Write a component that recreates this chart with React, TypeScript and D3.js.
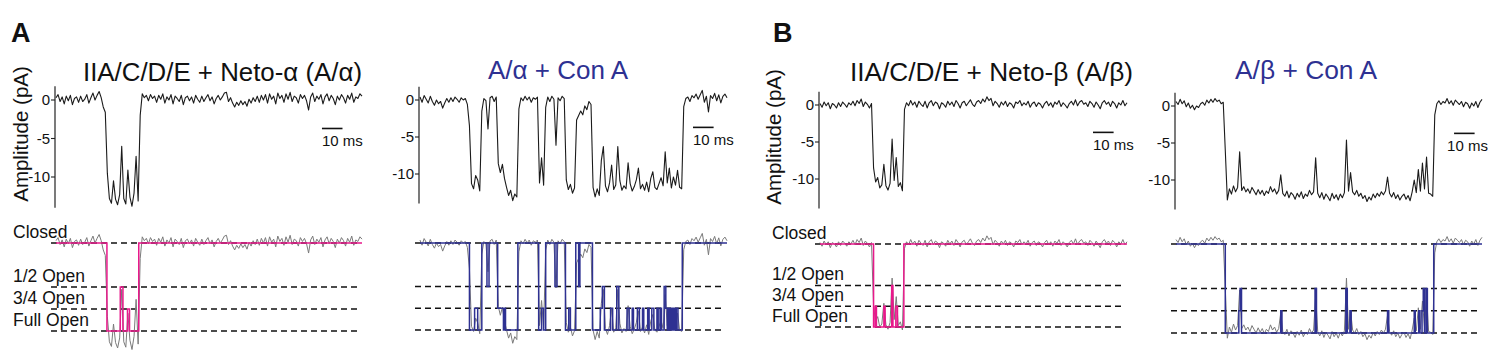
import * as d3 from 'd3';

// single-channel recordings, sampled every 1 ms (pA)
const rawAlpha = [
  0.3, 0.7, -0.2, 0.4, -0.5, 0.5, -0.1, 0.6, -0.6, 0.2,
  0.4, -0.3, 0.5, -0.2, 0.1, 0.7, -0.4, 0.3, 0.9, 0.0,
  0.6, 1.1, 0.3, -0.9, -1.6, -9.5, -12.8, -13.4, -10.5, -12.9,
  -13.6, -12.3, -6.0, -12.8, -13.5, -9.1, -12.6, -13.8, -12.1, -7.3,
  -13.1, -2.0, 0.8, 0.3, 0.6, -0.1, 0.7, 0.2, 0.5, -0.3,
  0.6, 0.1, 0.8, -0.4, 0.4, 0.0, 0.7, -0.5, 0.5, 0.2,
  -0.2, 0.6, -0.6, 0.3, 0.5, -0.1, 0.4, -0.4, 0.6, 0.1,
  -0.3, 0.5, -0.2, 0.3, 0.7, -0.1, 0.4, -0.5, 0.2, 0.6,
  0.0, 0.4, 0.9, 1.0, -0.2, 0.3, -0.4, -0.9, -0.3, -0.7,
  -0.1, -0.6, -0.2, -0.8, 0.1, -0.4, 0.3, -0.2, 0.5, -0.3,
  0.6, 0.0, 0.7, -0.4, 0.8, 0.1, 0.5, -0.5, 0.9, 0.2,
  0.6, -0.3, 0.8, 0.1, 1.0, -0.2, 0.5, 0.3, -0.4, 0.7,
  0.2, 0.6, -0.1, -1.3, 0.4, 0.9, -0.2, 0.5, 0.1, 0.7,
  -0.5, 0.4, 0.8, -0.1, 0.6, 0.2, -0.6, 0.5, 0.0, 0.7,
  0.3, -0.4, 0.6, 0.1, 0.9, -0.3, 0.4, 0.2, 0.8, 0.5,
];

const rawAlphaConA = [
  0.4, -0.3, 0.6, 0.1, -0.4, 0.5, -0.2, -0.7, 0.0, -0.5,
  -0.2, -1.1, -0.4, 0.2, -0.3, 0.3, -0.2, 0.4, 0.1, -0.3,
  0.3, 0.0, 0.2, -0.6, -3.5, -11.3, -12.0, -10.2, -10.8, -12.3,
  -1.5, 0.2, -0.1, -3.9, 0.3, 0.5, -0.2, 0.4, -8.6, -9.8,
  -8.7, -10.6, -11.8, -12.9, -12.2, -13.6, -12.7, -13.1, -1.2, 0.3,
  -0.1, 0.5, 0.0, 0.4, -0.3, 0.3, 0.1, 0.4, -11.2, -7.8,
  -11.5, -1.0, 0.4, -0.2, 0.5, 0.1, -6.1, 0.3, -0.1, 0.5,
  0.2, -10.8, -12.1, -11.4, -12.6, -11.9, -2.7, -2.1, -1.5, -2.0,
  -0.8, -1.3, -0.2, -0.6, -11.8, -13.1, -12.0, -12.9, -8.2, -6.3,
  -11.6, -12.4, -11.2, -8.8, -12.1, -11.5, -6.3, -10.9, -12.2, -11.6,
  -12.0, -8.5, -11.3, -12.3, -11.7, -10.8, -9.2, -12.0, -11.4, -12.2,
  -11.1, -12.4, -10.6, -9.7, -11.8, -12.1, -11.3, -10.5, -11.6, -7.0,
  -11.2, -9.2, -11.9, -10.4, -11.5, -9.5, -11.8, -12.0, -0.9, 0.2,
  0.4, -0.2, 0.6, 0.3, 0.8, 0.1, 0.7, 1.3, -0.3, 0.5,
  -1.6, 0.6, 0.2, 0.9, -0.1, 0.7, -0.4, 0.5, 0.8, 0.3,
];

const rawBeta = [
  0.2, -0.3, 0.4, -0.1, 0.3, -0.5, 0.2, 0.0, -0.4, 0.3,
  -0.2, 0.4, 0.1, -0.3, 0.3, 0.0, 0.5, -0.1, 0.6, 0.2,
  0.8, -0.2, 0.4, 0.1, -0.4, 0.2, -8.5, -10.4, -9.8, -11.2,
  -10.8, -8.0, -10.9, -11.5, -10.6, -4.6, -10.2, -7.1, -11.0, -10.5,
  -11.6, -0.6, 0.3, -0.1, 0.6, 0.0, 0.4, -0.3, 0.5, 0.1,
  -0.2, 0.5, -0.4, 0.3, 0.6, -0.1, 0.4, 0.2, -0.5, 0.3,
  0.1, -0.3, 0.5, 0.0, 0.4, -0.2, 0.6, 0.2, -0.4, 0.3,
  0.5, -0.1, 0.3, 0.7, 0.1, -0.2, 0.4, 0.6, 0.2, 0.8,
  0.4, 1.1, 0.6, 0.9, -0.1, 0.5, 0.2, -0.3, 0.4, 0.0,
  0.5, -0.2, 0.3, 0.1, -0.4, 0.4, 0.2, 0.6, -0.1, 0.3,
  0.0, 0.5, -0.3, 0.2, 0.4, -0.2, 0.3, 0.1, -0.4, 0.2,
  0.5, -0.1, 0.3, -0.3, 0.4, 0.1, 0.6, -0.2, 0.3, 0.0,
  -0.4, 0.2, 0.5, 0.0, 0.7, -0.1, 0.4, 0.6, 0.1, 0.3,
  -0.2, 0.5, 0.2, -0.3, 0.4, 0.0, -0.5, 0.3, 0.6, 0.1,
  0.4, -0.2, 0.5, 0.2, -0.4, 0.3, 0.0, 0.6, -0.1, 0.3,
];

const rawBetaConA = [
  0.6, 0.2, 0.9, 0.3, 0.7, -0.1, 0.4, -0.3, 0.1, -0.5,
  0.0, -0.2, 0.3, 0.5, 0.1, 0.8, 0.4, 0.9, 0.5, 1.0,
  0.6, 0.8, 0.3, 0.5, -6.0, -12.7, -11.2, -11.9, -10.8, -11.6,
  -11.0, -6.2, -11.4, -10.9, -11.6, -11.2, -11.8, -11.0, -11.5, -12.0,
  -11.3, -11.9, -11.4, -12.1, -11.5, -11.8, -10.9, -11.6, -11.2, -11.9,
  -11.4, -9.3, -11.8, -12.2, -11.5, -12.4, -11.7, -12.0, -12.6, -11.8,
  -12.3, -11.6, -12.5, -11.9, -12.2, -11.4, -12.0, -11.6, -7.0, -11.8,
  -12.4, -11.7, -12.6, -11.9, -12.3, -12.8, -11.8, -12.5, -12.0, -12.7,
  -11.9, -12.4, -11.7, -4.6, -11.5, -9.0, -11.6, -12.0, -11.4, -12.2,
  -11.8, -12.5, -12.1, -12.9, -12.3, -12.7, -11.9, -12.4, -11.8, -12.2,
  -11.6, -12.0, -11.5, -9.6, -11.8, -12.3, -11.7, -12.5, -12.0, -12.7,
  -12.2, -11.9, -12.6, -12.1, -12.8, -11.6, -10.0, -11.7, -8.6, -11.5,
  -7.7, -11.2, -6.9, -11.8, -11.9, -12.2, -1.2, 0.3, 0.7, 0.2,
  0.6, 0.4, 1.0, 0.3, 0.7, 0.1, 0.8, 0.5, 0.2, 0.6,
  -0.1, 0.5, 0.3, -0.3, 0.4, 0.0, 0.6, -0.2, 0.5, 0.9,
];

// idealized records: [start ms, fraction open]
const idealAlpha = [
  [0, 0], [24.8, 1], [31.3, 0.5], [32.6, 1], [34.8, 0.75], [35.8, 1], [40.3, 0],
];
const idealAlphaConA = [
  [0, 0], [24, 1], [26.5, 0.75], [28, 1], [30, 0], [32.5, 0.5], [33.5, 0], [37.7, 0.75],
  [40.5, 1], [40.8, 0.75], [41.5, 1], [47.5, 0], [57.6, 1], [59, 0.75], [60, 1], [61, 0],
  [65.5, 0.5], [66.5, 0], [70.6, 1], [72.2, 0.75], [73, 1], [75.6, 0], [77, 0.5], [77.6, 0],
  [83.7, 1], [87.5, 0.75], [88.5, 0.5], [89.5, 1], [92.5, 0.75], [93.5, 1], [95.5, 0.5],
  [96.5, 1], [100.5, 0.75], [101.5, 1], [103, 0.75], [103.6, 1], [105.5, 0.75], [106.5, 1],
  [108, 0.75], [108.6, 1], [110.5, 0.75], [111.2, 1], [112.5, 0.75], [113.5, 1], [115, 0.75],
  [115.6, 1], [116.5, 0.75], [117.2, 1], [118.5, 0.5], [119.3, 0.75], [120, 1], [120.7, 0.75],
  [121.4, 1], [122, 0.75], [122.6, 1], [123.2, 0.75], [123.8, 1], [124.4, 0.75], [125.2, 1],
  [127.3, 0],
];
const idealBeta = [
  [0, 0], [26, 1], [26.8, 0.75], [27.4, 1], [31, 0.75], [31.6, 1], [34.8, 0.5], [35.4, 1],
  [36.8, 0.75], [37.6, 1], [40.7, 0],
];
const idealBetaConA = [
  [0, 0], [24, 1], [30.6, 0.75], [31.2, 0.5], [31.9, 1], [51, 0.75], [51.6, 1], [67.7, 0.5],
  [68.4, 1], [82.7, 0.5], [83.4, 1], [84.7, 0.75], [85.3, 1], [103, 0.75], [103.6, 1],
  [116, 0.75], [116.5, 1], [118.2, 0.75], [118.8, 1], [119.8, 0.75], [120.4, 0.5], [121, 1],
  [121.8, 0.5], [122.4, 1], [125.5, 0],
];

const titles = ['IIA/C/D/E + Neto-α (A/α)', 'A/α + Con A', 'IIA/C/D/E + Neto-β (A/β)', 'A/β + Con A'];
const fullAmplitudes = [-11.4, -11.8, -11.2, -12.0];
const panelLetters = ['A', 'B'];
const yTicks = [0, -5, -10];
const stateLabels = ['Closed', '1/2 Open', '3/4 Open', 'Full Open'];
const stateFractions = [0, 0.5, 0.75, 1];
const scaleBarMs = 10;

const FONT = '"Liberation Sans", Arial, Helvetica, sans-serif';
const PINK = '#e8198b';
const NAVY = '#2e3192';

const panels = [
  { raw: rawAlpha, ideal: idealAlpha, x0: 56, x1: 362, y0: 100, y10: 177, closedY: 243, fullY: 331, color: PINK, titleX: 83, titleY: 81, titleW: 279, titleColor: '#111', barAt: 129.5, barDx: 0 },
  { raw: rawAlphaConA, ideal: idealAlphaConA, x0: 420, x1: 727, y0: 100, y10: 174, closedY: 243, fullY: 330, color: NAVY, titleX: 488, titleY: 79, titleW: 140, titleColor: NAVY, barAt: 132.5, barDx: 0 },
  { raw: rawBeta, ideal: idealBeta, x0: 820, x1: 1127, y0: 105, y10: 179, closedY: 244, fullY: 327, color: PINK, titleX: 850, titleY: 81, titleW: 283, titleColor: '#111', barAt: 132.5, barDx: 0 },
  { raw: rawBetaConA, ideal: idealBetaConA, x0: 1176, x1: 1482, y0: 106, y10: 180, closedY: 244, fullY: 333, color: NAVY, titleX: 1235, titleY: 79, titleW: 142, titleColor: NAVY, barAt: 135.4, barDx: -7 },
];

const groups = [
  { letterX: 11, labelX: 28, labelY: 134, stateX: 13 },
  { letterX: 773, labelX: 781, labelY: 137, stateX: 772 },
];

function Panel({ p, i }: { p: (typeof panels)[number]; i: number }) {
  const n = p.raw.length;
  const x = d3.scaleLinear().domain([0, n - 1]).range([p.x0, p.x1]);
  const yTop = d3.scaleLinear().domain([0, -10]).range([p.y0, p.y10]);
  const full = fullAmplitudes[i];
  const yBot = d3.scaleLinear().domain([0, full]).range([p.closedY, p.fullY]);
  const idx = d3.range(n);

  const topLine = d3.line<number>().x((d) => x(d)).y((d) => yTop(p.raw[d]));
  const botLine = d3.line<number>().x((d) => x(d)).y((d) => yBot(p.raw[d]));
  const steps = [...p.ideal, [n - 1, p.ideal[p.ideal.length - 1][1]]];
  const idealLine = d3
    .line<number[]>()
    .curve(d3.curveStepAfter)
    .x((d) => x(d[0]))
    .y((d) => yBot(d[1] * full));

  const axisX = p.x0 - 1;
  const barX = x(p.barAt);
  const barW = x(p.barAt + scaleBarMs) - barX;
  const barY = yTop(-3.7);

  return (
    <g>
      <text x={p.titleX} y={p.titleY} fontSize={25} fill={p.titleColor} textLength={p.titleW} lengthAdjust="spacingAndGlyphs">
        {titles[i]}
      </text>
      {/* y axis */}
      <line x1={axisX} x2={axisX} y1={yTop(1.8)} y2={yTop(-14)} stroke="#222" strokeWidth={1.2} />
      {yTicks.map((t) => (
        <g key={t}>
          <line x1={axisX - 4} x2={axisX} y1={yTop(t)} y2={yTop(t)} stroke="#222" strokeWidth={1.1} />
          <text x={axisX - 5} y={yTop(t)} dy="0.36em" textAnchor="end" fontSize={15} fill="#111">
            {t}
          </text>
        </g>
      ))}
      <path d={topLine(idx) ?? ''} fill="none" stroke="#1b1b1b" strokeWidth={1.1} strokeLinejoin="round" />
      {/* 10 ms scale bar */}
      <line x1={barX} x2={barX + barW} y1={barY} y2={barY} stroke="#111" strokeWidth={1.6} />
      <text x={barX + p.barDx} y={barY + 18} fontSize={15} fill="#111">
        {scaleBarMs} ms
      </text>
      {/* idealized states */}
      {stateFractions.map((f) => (
        <line key={f} x1={p.x0 - 5} x2={p.x1 - 3} y1={yBot(f * full)} y2={yBot(f * full)} stroke="#111" strokeWidth={1.3} strokeDasharray="6 4" />
      ))}
      <path d={botLine(idx) ?? ''} fill="none" stroke="#7a7a7a" strokeWidth={1} strokeLinejoin="round" />
      <path d={idealLine(steps as number[][]) ?? ''} fill="none" stroke={p.color} strokeWidth={1.5} />
    </g>
  );
}

export default function App() {
  return (
    <svg width={1500} height={363} style={{ position: 'absolute', left: 0, top: 0, background: '#fff' }} fontFamily={FONT}>
      {groups.map((g, gi) => {
        const first = panels[gi * 2];
        const yBot = d3.scaleLinear().domain([0, fullAmplitudes[gi * 2]]).range([first.closedY, first.fullY]);
        return (
          <g key={gi}>
            <text x={g.letterX} y={42} fontSize={27} fontWeight="bold" fill="#111">
              {panelLetters[gi]}
            </text>
            <text transform={`translate(${g.labelX},${g.labelY}) rotate(-90)`} textAnchor="middle" fontSize={20.5} fill="#111">
              Amplitude (pA)
            </text>
            {stateLabels.map((s, si) => (
              <text key={s} x={g.stateX} y={yBot(stateFractions[si] * fullAmplitudes[gi * 2]) - 5.5} fontSize={17.5} fill="#111">
                {s}
              </text>
            ))}
          </g>
        );
      })}
      {panels.map((p, i) => (
        <Panel key={i} p={p} i={i} />
      ))}
    </svg>
  );
}
